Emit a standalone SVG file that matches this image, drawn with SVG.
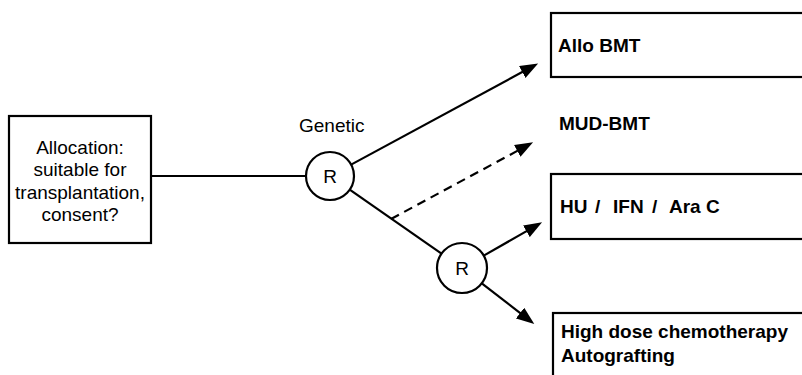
<svg xmlns="http://www.w3.org/2000/svg" width="802" height="375" viewBox="0 0 802 375">
<style>
.box{fill:#fff;stroke:#000;stroke-width:2.2}
.circ{fill:#fff;stroke:#000;stroke-width:2.2}
.ln{fill:none;stroke:#000;stroke-width:2.2}
.dash{stroke-dasharray:9 6}
.t{font-family:"Liberation Sans",Arial,sans-serif;font-size:19px;fill:#000}
.b{font-weight:bold}
.m{text-anchor:middle}
</style>
<defs>
<marker id="ah" markerUnits="userSpaceOnUse" markerWidth="18" markerHeight="14" viewBox="0 0 16 12" refX="6" refY="6" orient="auto">
<path d="M0,0 L16,6 L0,12 z" fill="#000"/>
</marker>
</defs>
<rect width="802" height="375" fill="#fff"/>
<g id="connectors">
<line class="ln" x1="151" y1="176" x2="306" y2="176"/>
<line class="ln" x1="351.1" y1="164.6" x2="528.2" y2="68.8" marker-end="url(#ah)"/>
<line class="ln dash" x1="391" y1="219" x2="523.2" y2="147.7" marker-end="url(#ah)"/>
<line class="ln" x1="349.7" y1="189.7" x2="441.5" y2="253.7"/>
<line class="ln" x1="483.7" y1="255.6" x2="532.3" y2="227.9" marker-end="url(#ah)"/>
<line class="ln" x1="481.8" y1="283.3" x2="525.4" y2="317.2" marker-end="url(#ah)"/>
</g>
<g id="allocation">
<rect class="box" x="9" y="116" width="142" height="127"/>
<text class="t m" x="80" y="154">Allocation:</text>
<text class="t m" x="80" y="176">suitable for</text>
<text class="t m" x="80" y="199">transplantation,</text>
<text class="t m" x="80" y="221">consent?</text>
</g>
<g id="genetic-label">
<text class="t" x="299" y="132">Genetic</text>
</g>
<g id="r1">
<circle class="circ" cx="330" cy="176" r="24"/>
<text class="t m" x="330" y="183">R</text>
</g>
<g id="r2">
<circle class="circ" cx="462" cy="268" r="25"/>
<text class="t m" x="462" y="275">R</text>
</g>
<g id="allo-bmt">
<rect class="box" x="551" y="13" width="270" height="64"/>
<text class="t b" x="558" y="52">Allo BMT</text>
</g>
<g id="mud-bmt">
<text class="t b" x="559" y="130">MUD-BMT</text>
</g>
<g id="hu-ifn-arac">
<rect class="box" x="551" y="174" width="270" height="65"/>
<text class="t b" x="560" y="213">HU<tspan x="595">/</tspan><tspan x="613">IFN</tspan><tspan x="652">/</tspan><tspan x="669">Ara C</tspan></text>
</g>
<g id="high-dose">
<rect class="box" x="553" y="313" width="270" height="80"/>
<text class="t b" x="561" y="338">High dose chemotherapy</text>
<text class="t b" x="561" y="362">Autografting</text>
</g>
</svg>
